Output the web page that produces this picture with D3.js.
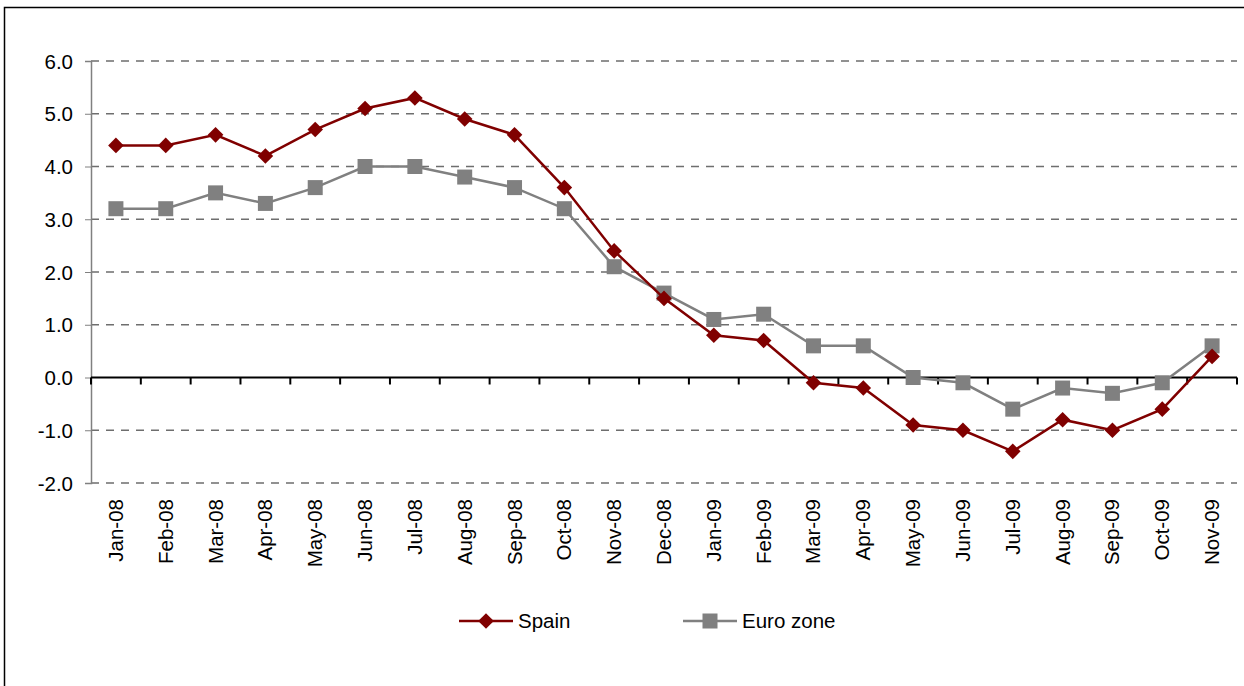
<!DOCTYPE html>
<html>
<head>
<meta charset="utf-8">
<script src="https://cdn.jsdelivr.net/npm/d3@7"></script>
<style>
  body { margin: 0; background: #fff; }
  svg text { font-family: Arial, "Liberation Sans", sans-serif; fill: #000; }
</style>
</head>
<body>
<svg id="chart" width="1244" height="686"></svg>
<script>
var months = ["Jan-08","Feb-08","Mar-08","Apr-08","May-08","Jun-08","Jul-08","Aug-08","Sep-08","Oct-08","Nov-08","Dec-08",
  "Jan-09","Feb-09","Mar-09","Apr-09","May-09","Jun-09","Jul-09","Aug-09","Sep-09","Oct-09","Nov-09"];
var spain = [4.4,4.4,4.6,4.2,4.7,5.1,5.3,4.9,4.6,3.6,2.4,1.5,0.8,0.7,-0.1,-0.2,-0.9,-1.0,-1.4,-0.8,-1.0,-0.6,0.4];
var euro  = [3.2,3.2,3.5,3.3,3.6,4.0,4.0,3.8,3.6,3.2,2.1,1.6,1.1,1.2,0.6,0.6,0.0,-0.1,-0.6,-0.2,-0.3,-0.1,0.6];
var yTicks = [-2,-1,0,1,2,3,4,5,6];

var svg = d3.select("svg#chart");

// outer frame
svg.append("rect")
  .attr("x", 4.5).attr("y", 7.5)
  .attr("width", 1260).attr("height", 700)
  .attr("fill", "none").attr("stroke", "#000").attr("stroke-width", 1.5);

var mLeft = 91, mRight = 1237, mTop = 61, mBottom = 483;

var x = d3.scaleBand().domain(months).range([mLeft, mRight]);
var y = d3.scaleLinear().domain([-2, 6]).range([mBottom, mTop]);
var cx = function(i) { return x(months[i]) + x.bandwidth() / 2; };

// gridlines
svg.append("g").selectAll("line")
  .data(yTicks.filter(function(d) { return d !== 0; }))
  .enter().append("line")
    .attr("x1", mLeft).attr("x2", mRight)
    .attr("y1", function(d) { return y(d); })
    .attr("y2", function(d) { return y(d); })
    .attr("stroke", "#6e6e6e").attr("stroke-width", 1.3)
    .attr("stroke-dasharray", "8,7");

// y axis
var yAxis = svg.append("g")
  .attr("transform", "translate(" + mLeft + ",0)")
  .call(d3.axisLeft(y).tickValues(yTicks).tickSize(6).tickPadding(12)
    .tickFormat(d3.format(".1f")));
yAxis.select(".domain").attr("stroke", "#808080").attr("stroke-width", 1.5);
yAxis.selectAll(".tick line").attr("stroke", "#808080");
yAxis.selectAll("text").style("font-size", "20.5px").attr("dy", "0.35em")
  .text(function(d) { return d < 0 ? "-" + Math.abs(d).toFixed(1) : d.toFixed(1); });

// zero line with ticks
svg.append("line")
  .attr("x1", mLeft).attr("x2", mRight)
  .attr("y1", y(0)).attr("y2", y(0))
  .attr("stroke", "#000").attr("stroke-width", 2);
svg.append("g").selectAll("line")
  .data(months.concat(["end"]))
  .enter().append("line")
    .attr("x1", function(d, i) { return mLeft + i * x.bandwidth(); })
    .attr("x2", function(d, i) { return mLeft + i * x.bandwidth(); })
    .attr("y1", y(0)).attr("y2", y(0) + 7)
    .attr("stroke", "#000").attr("stroke-width", 2);

// x labels
svg.append("g").selectAll("text")
  .data(months)
  .enter().append("text")
    .attr("transform", function(d, i) { return "translate(" + (cx(i) + 7) + "," + (mBottom + 16) + ") rotate(-90)"; })
    .attr("text-anchor", "end")
    .style("font-size", "20.5px")
    .text(function(d) { return d; });

var line = d3.line()
  .x(function(d, i) { return cx(i); })
  .y(function(d) { return y(d); });

// euro zone
svg.append("path").datum(euro)
  .attr("d", line).attr("fill", "none")
  .attr("stroke", "#808080").attr("stroke-width", 2.5);
svg.append("g").selectAll("rect")
  .data(euro)
  .enter().append("rect")
    .attr("x", function(d, i) { return cx(i) - 7.5; })
    .attr("y", function(d) { return y(d) - 7.5; })
    .attr("width", 15).attr("height", 15)
    .attr("fill", "#808080");

// spain
var diamond = d3.symbol().type(d3.symbolDiamond2).size(155);
svg.append("path").datum(spain)
  .attr("d", line).attr("fill", "none")
  .attr("stroke", "#800000").attr("stroke-width", 2.5);
svg.append("g").selectAll("path")
  .data(spain)
  .enter().append("path")
    .attr("d", diamond)
    .attr("transform", function(d, i) { return "translate(" + cx(i) + "," + y(d) + ")"; })
    .attr("fill", "#800000");

// legend
var legend = svg.append("g");
legend.append("line").attr("x1", 459).attr("x2", 513).attr("y1", 621).attr("y2", 621)
  .attr("stroke", "#800000").attr("stroke-width", 2.5);
legend.append("path").attr("d", diamond)
  .attr("transform", "translate(486,621)").attr("fill", "#800000");
legend.append("text").attr("x", 518).attr("y", 628).style("font-size", "20.5px").text("Spain");

legend.append("line").attr("x1", 683).attr("x2", 737).attr("y1", 621).attr("y2", 621)
  .attr("stroke", "#808080").attr("stroke-width", 2.5);
legend.append("rect").attr("x", 702.5).attr("y", 613.5).attr("width", 15).attr("height", 15)
  .attr("fill", "#808080");
legend.append("text").attr("x", 742).attr("y", 628).style("font-size", "20.5px").text("Euro zone");
</script>
</body>
</html>
